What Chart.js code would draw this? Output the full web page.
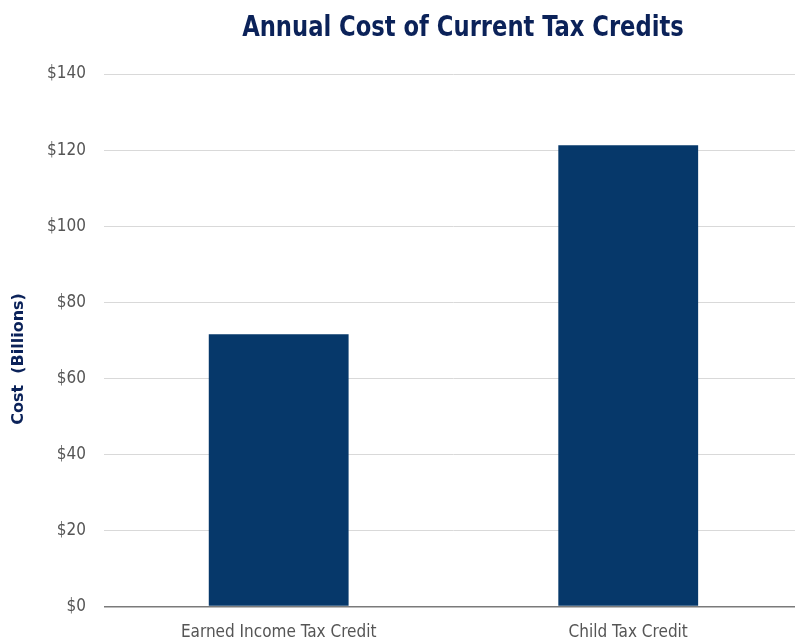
<!DOCTYPE html>
<html>
<head>
<meta charset="utf-8">
<script src="https://cdn.jsdelivr.net/npm/chart.js@4.4.0/dist/chart.umd.min.js"></script>
<style>
  html, body { margin: 0; padding: 0; background: #fff; overflow: hidden; }
  #wrap { width: 803px; height: 639px; }
</style>
</head>
<body>
<div id="wrap"><canvas id="c"></canvas></div>
<script>
// Annual cost of current tax credits, in billions of dollars
const categories = ["Earned Income Tax Credit", "Child Tax Credit"];
const costBillions = [71.6, 121.3];
const tickValues = [0, 20, 40, 60, 80, 100, 120, 140];
const chartTitle = "Annual Cost of Current Tax Credits";
const yAxisTitle = "Cost  (Billions)";

const navy = "#0b2259";
const labelFont = "'Liberation Sans Narrow', 'DejaVu Sans Condensed', sans-serif";

// Heading and rotated axis caption, drawn after the chart
const captions = {
  id: "captions",
  afterDraw(chart) {
    const ctx = chart.ctx;
    ctx.save();
    ctx.fillStyle = navy;
    ctx.textAlign = "center";
    ctx.textBaseline = "middle";
    // heading, slightly condensed
    ctx.font = "bold 28px " + labelFont;
    ctx.save();
    ctx.translate(463, 29);
    ctx.scale(0.9, 1);
    ctx.fillText(chartTitle, 0, 0);
    ctx.restore();
    // y-axis caption
    ctx.font = "bold 16px 'DejaVu Sans', sans-serif";
    ctx.translate(19, 359);
    ctx.rotate(-Math.PI / 2);
    ctx.fillText(yAxisTitle, 0, 0);
    ctx.restore();
  }
};

new Chart(document.getElementById("c"), {
  type: "bar",
  data: {
    labels: categories,
    datasets: [{
      data: costBillions,
      backgroundColor: "#06386a",
      categoryPercentage: 1,
      barPercentage: 0.4
    }]
  },
  options: {
    responsive: true,
    maintainAspectRatio: false,
    animation: false,
    layout: { padding: { left: 29, right: 0, top: 74, bottom: -20 } },
    plugins: {
      legend: { display: false },
      tooltip: { enabled: false },
      title: { display: false }
    },
    scales: {
      x: {
        grid: { display: false, drawTicks: false },
        border: { display: false },
        ticks: {
          color: "#555",
          font: { family: labelFont, size: 17 },
          padding: 16
        }
      },
      y: {
        min: 0,
        max: 140,
        afterBuildTicks: (axis) => { axis.ticks = tickValues.map(v => ({ value: v })); },
        grid: {
          drawTicks: false,
          color: (ctx) => ctx.tick && ctx.tick.value === 0 ? "#7a7a7a" : "#d9d9d9",
          lineWidth: (ctx) => ctx.tick && ctx.tick.value === 0 ? 1.5 : 1
        },
        border: { display: false },
        ticks: {
          color: "#555",
          font: { family: labelFont, size: 17 },
          padding: 18,
          callback: (v) => "$" + v
        }
      }
    }
  },
  plugins: [captions]
});
</script>
</body>
</html>
